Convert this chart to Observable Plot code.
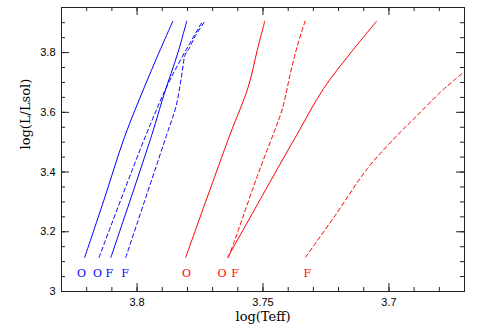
<!DOCTYPE html>
<html><head><meta charset="utf-8">
<script src="https://cdn.jsdelivr.net/npm/d3@7"></script>
<script src="https://cdn.jsdelivr.net/npm/@observablehq/plot@0.6"></script>
<style>body{margin:0;background:#fff}</style>
</head><body><div id="chart"></div>
<script>
// ---- data (log Teff, log L/Lsol) ----
const b1Teff = [3.8208, 3.8132, 3.8049, 3.7971, 3.7914, 3.7858];
const b1LogL = [3.114, 3.305, 3.519, 3.684, 3.798, 3.905];
const b2Teff = [3.8104, 3.7942, 3.7894, 3.7837, 3.7803];
const b2LogL = [3.114, 3.523, 3.657, 3.802, 3.905];
const bd1Teff = [3.8151, 3.7965, 3.7866, 3.7740];
const bd1LogL = [3.114, 3.523, 3.714, 3.905];
const bd2Teff = [3.8045, 3.7883, 3.7846, 3.7827, 3.7817, 3.7810, 3.7794, 3.7767, 3.7731];
const bd2LogL = [3.114, 3.523, 3.618, 3.701, 3.757, 3.791, 3.813, 3.858, 3.905];
const r1Teff = [3.7807, 3.7632, 3.7559, 3.7522, 3.7493];
const r1LogL = [3.114, 3.523, 3.684, 3.811, 3.905];
const r2Teff = [3.7640, 3.7502, 3.7367, 3.7259, 3.7150, 3.7049];
const r2LogL = [3.114, 3.322, 3.523, 3.680, 3.801, 3.905];
const rd1Teff = [3.7638, 3.7615, 3.7582, 3.7536, 3.7502, 3.7461, 3.7423, 3.7390, 3.7363, 3.7333];
const rd1LogL = [3.114, 3.165, 3.244, 3.355, 3.433, 3.523, 3.612, 3.735, 3.824, 3.905];
const rd2Teff = [3.7331, 3.7218, 3.7086, 3.6967, 3.6887, 3.6795, 3.6742, 3.6697];
const rd2LogL = [3.115, 3.249, 3.411, 3.523, 3.590, 3.668, 3.707, 3.739];

const seriesNames  = ["b1", "b2", "bd1", "bd2", "r1", "r2", "rd1", "rd2"];
const seriesTeff   = [b1Teff, b2Teff, bd1Teff, bd2Teff, r1Teff, r2Teff, rd1Teff, rd2Teff];
const seriesLogL   = [b1LogL, b2LogL, bd1LogL, bd2LogL, r1LogL, r2LogL, rd1LogL, rd2LogL];
const seriesColor  = ["blue", "blue", "blue", "blue", "red", "red", "red", "red"];
const seriesDashed = [false, false, true, true, false, false, true, true];

const labelText  = ["O", "O", "F", "F", "O", "O", "F", "F"];
const labelTeff  = [3.8221, 3.8157, 3.8110, 3.8048, 3.7804, 3.7663, 3.7611, 3.7324];
const labelLogL  = 3.061;
const labelColor = ["blue", "blue", "blue", "blue", "red", "red", "red", "red"];

const xTickLabels = [3.8, 3.75, 3.7];
const yTickLabels = [3, 3.2, 3.4, 3.6, 3.8];
const xMajorTicks = [3.8, 3.75, 3.7];
const xMinorTicks = d3.range(368, 383).map(d => d / 100);
const yMajorTicks = [3.2, 3.4, 3.6, 3.8];
const yMinorTicks = d3.range(61, 79).map(d => d / 20);

const xDomain = [3.83, 3.67];
const yDomain = [3.0, 3.951];

// ---- build tables ----
const rows = [];
seriesNames.forEach((s, i) => {
  seriesTeff[i].forEach((t, j) => rows.push({series: s, teff: t, logL: seriesLogL[i][j], color: seriesColor[i], dashed: seriesDashed[i]}));
});
const labels = labelText.map((t, i) => ({text: t, teff: labelTeff[i], logL: labelLogL, color: labelColor[i]}));

const W = 491, H = 336, mL = 61, mR = 27, mT = 7, mB = 45;
const pH = H - mT - mB, pW = W - mL - mR;
const majLen = 8, minLen = 4;
const axisColor = "#222";
const serif = "DejaVu Serif, Liberation Serif, serif";
const sans = "Liberation Sans, Arial, Helvetica, sans-serif";

const chart = Plot.plot({
  width: W, height: H,
  marginLeft: mL, marginRight: mR, marginTop: mT, marginBottom: mB,
  style: {background: "white"},
  x: {domain: xDomain, label: null},
  y: {domain: yDomain, label: null},
  color: {type: "identity"},
  marks: [
    Plot.line(rows.filter(d => !d.dashed), {x: "teff", y: "logL", z: "series", stroke: "color", strokeWidth: 1, curve: "catmull-rom", clip: true}),
    Plot.line(rows.filter(d => d.dashed), {x: "teff", y: "logL", z: "series", stroke: "color", strokeWidth: 1, strokeDasharray: "4,3", curve: "catmull-rom", clip: true}),
    Plot.text(labels, {x: "teff", y: "logL", text: "text", fill: "color", fontFamily: serif, fontSize: 11}),
    // inward ticks
    Plot.ruleX(xMinorTicks, {insetTop: pH - minLen, stroke: axisColor}),
    Plot.ruleX(xMinorTicks, {insetBottom: pH - minLen, stroke: axisColor}),
    Plot.ruleX(xMajorTicks, {insetTop: pH - majLen, stroke: axisColor}),
    Plot.ruleX(xMajorTicks, {insetBottom: pH - majLen, stroke: axisColor}),
    Plot.ruleY(yMinorTicks, {insetRight: pW - minLen, stroke: axisColor}),
    Plot.ruleY(yMinorTicks, {insetLeft: pW - minLen, stroke: axisColor}),
    Plot.ruleY(yMajorTicks, {insetRight: pW - majLen, stroke: axisColor}),
    Plot.ruleY(yMajorTicks, {insetLeft: pW - majLen, stroke: axisColor}),
    Plot.frame({stroke: axisColor, strokeWidth: 1}),
    Plot.axisX({ticks: xTickLabels, tickSize: 0, tickPadding: 7, tickFormat: d => String(d), fontSize: 11, fontFamily: sans, label: null}),
    Plot.axisY({ticks: yTickLabels, tickSize: 0, tickPadding: 6, tickFormat: d => String(d), fontSize: 11, fontFamily: sans, label: null}),
    Plot.text(["log(Teff)"], {text: d => d, frameAnchor: "bottom", dy: 29, fontFamily: serif, fontSize: 13}),
    Plot.text(["log(L/Lsol)"], {text: d => d, frameAnchor: "left", dx: -36, rotate: -90, fontFamily: serif, fontSize: 13})
  ]
});
document.getElementById("chart").appendChild(chart);
</script>
</body></html>
